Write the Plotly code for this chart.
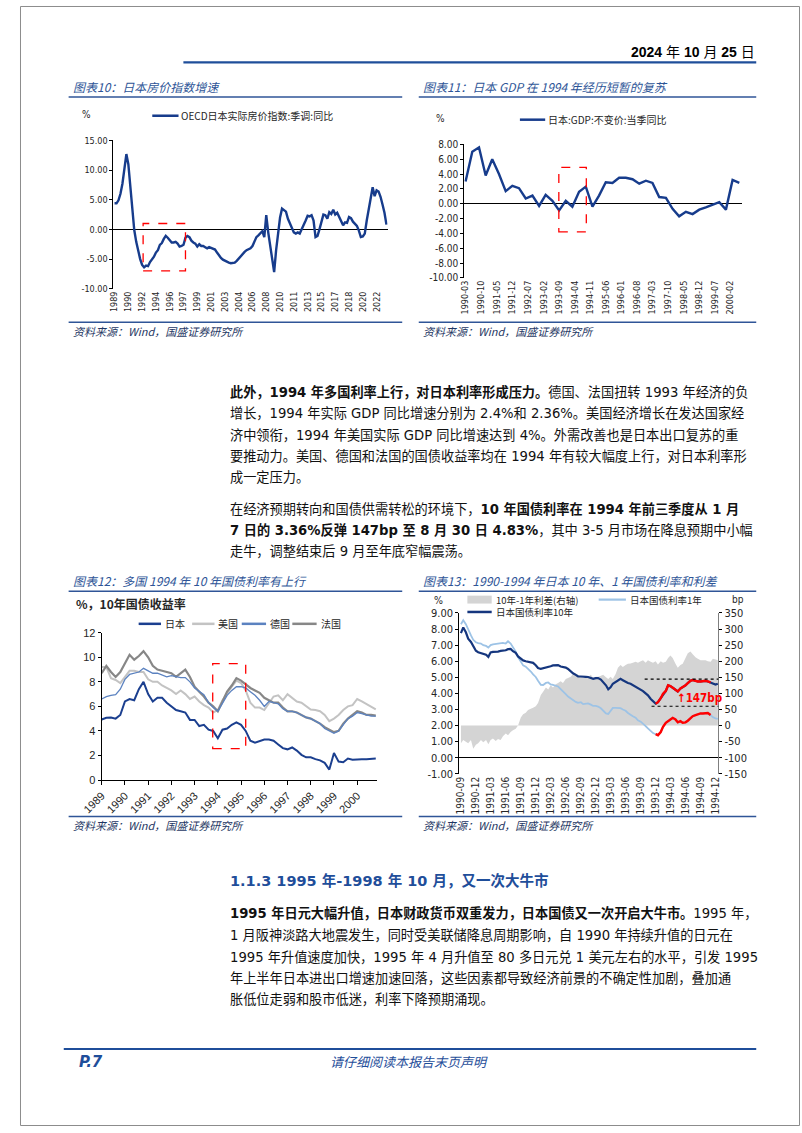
import plotly.graph_objects as go
import pandas as pd

W, H = 802, 1133


def fx(x):
    return x / W


def fy(y):
    return 1 - y / H


# ======================= DATA =======================
# Chart 10: OECD Japan real house price index, SA, YoY (quarterly, 1989Q1 ->)
hpi_values = [
    4.4, 4.4, 4.9, 6.0, 7.7, 9.9, 12.7, 11.0, 7.1, 3.2,
    -0.1, -2.1, -3.7, -5.0, -6.0, -6.4, -6.1, -6.2, -5.5, -5.1,
    -4.6, -3.9, -3.5, -2.6, -2.3, -1.6, -1.1, -1.4, -1.8, -2.2,
    -2.2, -2.1, -2.4, -2.9, -2.8, -2.6, -1.4, -1.1, -1.3, -1.9,
    -2.2, -2.4, -2.9, -2.5, -2.8, -2.8, -3.0, -3.2, -3.0, -3.1,
    -3.2, -3.4, -3.9, -4.4, -4.8, -5.1, -5.3, -5.5, -5.6, -5.7,
    -5.7, -5.6, -5.3, -4.9, -4.5, -4.2, -3.8, -3.5, -3.3, -3.2,
    -2.8, -2.0, -1.3, -1.0, -0.6, -0.3, -1.3, 2.4, -0.5, -2.5,
    -4.5, -7.2, -3.5, -0.5, 2.0, 3.5, 3.2, 3.0, 1.8, 1.1,
    0.4, -0.5, -0.7, -0.5, -0.7, 0.0, 0.6, 1.5, 2.3, 2.2,
    2.4, 1.5, -1.3, -1.1, 0.0, 1.5, 2.5, 2.4, 1.8, 2.9,
    2.6, 3.3, 2.5, 2.8, 2.0, 1.5, 0.7, 1.2, 1.1, 2.1,
    1.9, 1.3, 1.0, 0.6, -0.2, -1.3, -1.2, -0.7, 1.5, 3.3,
    5.0, 7.1, 5.6, 6.6, 6.4, 5.5, 4.2, 2.8, 0.8,
]
hpi_tick_labels = ["1989", "1990", "1992", "1994", "1996", "1997", "1999", "2001",
                   "2003", "2004", "2006", "2008", "2010", "2011", "2013", "2015",
                   "2017", "2018", "2020", "2022"]
hpi_y_ticks = [15, 10, 5, 0, -5, -10]
hpi_y_labels = ["15.00", "10.00", "5.00", "0.00", "-5.00", "-10.00"]

# Chart 11: Japan real GDP YoY (quarterly, 1990-03 -> 2000-06)
gdp_values = [3.0, 7.0, 7.6, 3.8, 6.0, 4.0, 1.7, 2.4, 2.1, 0.7,
              1.1, -0.3, 1.2, 0.4, -0.9, 0.4, -0.4, 1.6, 2.3, -0.4,
              1.1, 2.9, 2.8, 3.5, 3.5, 3.3, 2.7, 3.1, 2.8, 0.9,
              0.8, -0.7, -1.7, -1.1, -1.4, -0.8, -0.5, -0.2, 0.2, -0.8,
              3.2, 2.8]
gdp_tick_labels = ["1990-03", "1990-10", "1991-05", "1991-12", "1992-07", "1993-02",
                   "1993-09", "1994-04", "1994-11", "1995-06", "1996-01", "1996-08",
                   "1997-03", "1997-10", "1998-05", "1998-12", "1999-07", "2000-02"]
gdp_y_ticks = [8, 6, 4, 2, 0, -2, -4, -6, -8, -10]
gdp_y_labels = ["8.00", "6.00", "4.00", "2.00", "0.00", "-2.00", "-4.00", "-6.00",
                "-8.00", "-10.00"]

# Chart 12: 10Y government bond yields (%), sampled every 0.2 year from 1989.0
jp10 = [4.93, 5.07, 5.1, 5.0, 5.3, 6.4, 6.6, 6.5, 7.4, 8.0,
        7.0, 6.4, 6.7, 6.7, 6.3, 6.0, 5.7, 5.6, 5.5, 4.9,
        4.9, 4.4, 4.5, 4.1, 4.0, 3.4, 4.1, 4.2, 4.5, 4.7,
        4.5, 4.0, 3.2, 3.05, 3.2, 3.3, 3.3, 3.2, 2.9, 2.6,
        2.5, 2.65, 2.4, 2.05, 1.85, 1.85, 1.7, 1.6, 1.4, 0.85,
        2.2, 1.5, 1.45, 1.75, 1.65, 1.7, 1.7, 1.7, 1.75, 1.75]
us10 = [9.2, 9.2, 8.3, 8.15, 7.9, 8.4, 8.9, 8.9, 8.8, 8.8,
        8.2, 8.0, 8.0, 7.7, 7.5, 7.3, 7.0, 7.3, 7.0, 6.6,
        6.8, 6.4, 6.1, 5.9, 5.5, 5.7, 6.5, 7.1, 7.6, 8.1,
        7.9, 7.3, 6.3, 5.9, 5.9, 5.7, 6.3, 6.8, 6.9, 6.5,
        7.0, 6.7, 6.4, 6.3, 6.0, 5.75, 5.7, 5.6, 5.3, 4.8,
        5.0, 5.3, 5.7, 6.0, 6.1, 6.6, 6.4, 6.2, 6.0, 5.75]
de10 = [6.6, 6.8, 6.9, 6.95, 7.4, 8.2, 8.6, 8.7, 8.8, 9.1,
        8.9, 8.7, 8.7, 8.55, 8.4, 8.5, 8.4, 8.35, 8.35, 8.0,
        7.5, 7.2, 6.95, 6.3, 5.9, 5.6, 6.3, 6.9, 7.3, 7.6,
        7.6, 7.5, 7.2, 6.9, 6.5, 6.0, 6.4, 6.3, 6.2, 5.8,
        5.6, 5.6, 5.5, 5.3, 5.1, 5.0, 4.8, 4.6, 4.2, 4.0,
        3.8, 4.0, 4.5, 5.0, 5.2, 5.5, 5.4, 5.3, 5.2, 5.2]
fr10 = [8.7, 9.3, 8.8, 8.4, 8.8, 9.5, 10.2, 9.8, 10.1, 10.5,
        10.0, 9.3, 9.0, 8.9, 8.8, 8.7, 8.4, 8.7, 9.0, 8.4,
        7.6, 7.2, 6.8, 6.3, 6.0, 5.6, 6.4, 7.2, 7.7, 8.3,
        8.1, 7.8, 7.5, 7.3, 7.1, 6.7, 6.5, 6.3, 6.3, 5.9,
        5.6, 5.6, 5.5, 5.3, 5.1, 5.0, 4.8, 4.6, 4.3, 4.1,
        3.9, 4.0, 4.6, 5.0, 5.3, 5.6, 5.5, 5.3, 5.3, 5.25]
bond_tick_labels = ["1989", "1990", "1991", "1992", "1993", "1994", "1995", "1996",
                    "1997", "1998", "1999", "2000"]
bond_names = ["日本", "美国", "德国", "法国"]

# Chart 13: JGB 10Y / 1Y yields (%) and spread (bp), semi-monthly from 1990-09-01
jgb10 = [7.75, 8.1, 7.8, 7.4, 7.2, 6.92, 6.65, 6.56, 6.52, 6.48,
         6.4, 6.27, 6.55, 6.58, 6.58, 6.6, 6.64, 6.64, 6.68, 6.75,
         6.76, 6.62, 6.52, 6.3, 6.15, 6.05, 6.0, 5.97, 5.97, 5.9,
         5.75, 5.58, 5.52, 5.55, 5.62, 5.66, 5.69, 5.74, 5.76, 5.76,
         5.67, 5.64, 5.6, 5.52, 5.37, 5.25, 5.15, 5.05, 5.05, 5.02,
         5.03, 5.02, 4.94, 4.9, 4.95, 4.95, 4.86, 4.7, 4.5, 4.25,
         4.38, 4.6, 4.72, 4.8, 4.9, 4.82, 4.72, 4.64, 4.6, 4.52,
         4.43, 4.3, 4.24, 4.14, 4.0, 3.88, 3.65, 3.5, 3.36, 3.45,
         3.7, 3.98, 4.15, 4.5, 4.45, 4.35, 4.25, 4.12, 4.3, 4.38,
         4.5, 4.64, 4.78, 4.83, 4.78, 4.74, 4.74, 4.78, 4.78, 4.74,
         4.68, 4.62, 4.55, 4.6]
jgb1 = [8.3, 8.55, 8.3, 7.95, 7.6, 7.33, 7.18, 7.12, 7.1, 7.0,
        6.95, 6.85, 7.0, 7.05, 7.08, 7.1, 7.12, 7.14, 7.1, 7.24,
        7.1, 6.85, 6.6, 6.25, 5.95, 5.74, 5.66, 5.53, 5.36, 5.18,
        5.02, 4.78, 4.53, 4.52, 4.65, 4.68, 4.56, 4.53, 4.5, 4.43,
        4.27, 4.1, 3.95, 3.8, 3.67, 3.56, 3.47, 3.41, 3.45, 3.33,
        3.36, 3.38, 3.3, 3.22, 3.22, 3.18, 3.07, 2.92, 2.75, 2.72,
        2.88, 3.1, 3.1, 3.1, 3.08, 3.0, 2.92, 2.78, 2.66, 2.58,
        2.49, 2.33, 2.24, 2.14, 1.97, 1.82, 1.66, 1.53, 1.46, 1.4,
        1.6, 1.92, 2.17, 2.3, 2.38, 2.48, 2.38, 2.2, 2.27, 2.18,
        2.2, 2.3, 2.45, 2.58, 2.65, 2.7, 2.75, 2.75, 2.77, 2.78,
        2.65, 2.52, 2.45, 2.42]
spread_bp = [-55, -45, -50, -55, -45, -72, -60, -55, -45, -52,
             -45, -58, -45, -40, -48, -42, -45, -33, -25, -30,
             -20, -15, -10, 0, 25, 35, 40, 48, 52, 55,
             60, 70, 95, 105, 118, 112, 125, 118, 128, 132,
             138, 132, 145, 148, 152, 160, 162, 158, 152, 148,
             152, 150, 158, 148, 152, 152, 155, 158, 150, 145,
             152, 145, 160, 180, 188, 182, 188, 192, 193, 195,
             198, 195, 200, 203, 195, 203, 198, 195, 200, 190,
             200, 195, 198, 210, 218, 210, 192, 180, 188, 192,
             210, 225, 230, 222, 212, 208, 203, 203, 203, 200,
             198, 208, 205, 203]
c13_tick_labels = ["1990-09", "1990-12", "1991-03", "1991-06", "1991-09", "1991-12",
                   "1992-03", "1992-06", "1992-09", "1992-12", "1993-03", "1993-06",
                   "1993-09", "1993-12", "1994-03", "1994-06", "1994-09", "1994-12"]
c13_left_ticks = [9, 8, 7, 6, 5, 4, 3, 2, 1, 0, -1]
c13_left_labels = ["9.00", "8.00", "7.00", "6.00", "5.00", "4.00", "3.00", "2.00",
                   "1.00", "0.00", "-1.00"]
c13_right_ticks = [350, 300, 250, 200, 150, 100, 50, 0, -50, -100, -150]
c13_right_labels = ["350", "300", "250", "200", "150", "100", "50", "0", "-50", "-100",
                    "-150"]
red_start, red_end = 78, 101          # 1994 rebound period highlighted in red
rebound_levels = [4.88, 3.20]         # dotted reference levels (high / low)

# ======================= DERIVED AXES =======================
hpi_x = list(range(len(hpi_values)))
hpi_tickvals = [7 * i for i in range(len(hpi_tick_labels))]
gdp_dates = pd.date_range("1990-03-01", periods=len(gdp_values), freq="3MS")
gdp_tickvals = [s + "-01" for s in gdp_tick_labels]
bond_years = [1989 + i / 5 for i in range(len(jp10))]
bond_tickvals = [int(s) for s in bond_tick_labels]
c13_dates = pd.date_range("1990-09-01", periods=len(jgb10), freq="SMS")
c13_tickvals = [s + "-01" for s in c13_tick_labels]

# ======================= STYLE =======================
NAVY = "#173c8c"
TITLE_BLUE = "#2e5597"
RULE_BLUE = "#2f5597"
SRC_COLOR = "#1f3864"
CJK = "Noto Sans CJK SC"
MIX = "DejaVu Sans, Noto Sans CJK SC"
AXF = "DejaVu Sans Condensed, DejaVu Sans"
TICK_COLOR = "#262626"

fig = go.Figure()

# ---- chart 10
fig.add_trace(go.Scatter(x=hpi_x, y=hpi_values, mode="lines", line=dict(color=NAVY, width=2.4),
                         xaxis="x", yaxis="y", hoverinfo="skip", showlegend=False))
# ---- chart 11
fig.add_trace(go.Scatter(x=gdp_dates, y=gdp_values, mode="lines", line=dict(color=NAVY, width=2.4),
                         xaxis="x2", yaxis="y2", hoverinfo="skip", showlegend=False))
# ---- chart 12
bond_series = [jp10, us10, de10, fr10]
bond_colors = ["#1b3f8f", "#c3c3c3", "#5b82c0", "#878787"]
bond_widths = [2.0, 2.0, 1.3, 2.2]
for order in [1, 3, 2, 0]:
    fig.add_trace(go.Scatter(x=bond_years, y=bond_series[order], mode="lines",
                             line=dict(color=bond_colors[order], width=bond_widths[order]),
                             xaxis="x3", yaxis="y3", hoverinfo="skip", showlegend=False,
                             name=bond_names[order]))
# ---- chart 13 (base axis y4 = bp on the right; overlay y5 = % on the left)
fig.add_trace(go.Scatter(x=c13_dates, y=spread_bp, mode="none", fill="tozeroy",
                         fillcolor="#d4d4d4", xaxis="x4", yaxis="y4", hoverinfo="skip",
                         showlegend=False))
fig.add_trace(go.Scatter(x=c13_dates, y=jgb1, mode="lines", line=dict(color="#9dc3e6", width=1.8),
                         xaxis="x4", yaxis="y5", hoverinfo="skip", showlegend=False))
fig.add_trace(go.Scatter(x=c13_dates, y=jgb10, mode="lines", line=dict(color="#15367e", width=2.2),
                         xaxis="x4", yaxis="y5", hoverinfo="skip", showlegend=False))
for ser in (jgb10, jgb1):
    fig.add_trace(go.Scatter(x=c13_dates[red_start:red_end], y=ser[red_start:red_end], mode="lines",
                             line=dict(color="#ff0000", width=2.4), xaxis="x4", yaxis="y5",
                             hoverinfo="skip", showlegend=False))


def yax(**kw):
    d = dict(showgrid=False, showline=True, linecolor="#000", linewidth=1, ticks="outside",
             ticklen=3, tickcolor="#000", tickmode="array", fixedrange=True,
             tickfont=dict(family=AXF, size=9, color=TICK_COLOR))
    d.update(kw)
    return d


def xax(**kw):
    d = dict(showgrid=False, showline=False, zeroline=False, ticks="", tickmode="array",
             fixedrange=True, tickfont=dict(family=AXF, size=9, color=TICK_COLOR))
    d.update(kw)
    return d


layout = dict(
    width=W, height=H, margin=dict(l=0, r=0, t=0, b=0),
    paper_bgcolor="white", plot_bgcolor="rgba(0,0,0,0)", showlegend=False,
    xaxis=xax(domain=[fx(96), fx(378)], anchor="y", range=[-0.6, len(hpi_values) - 0.4],
              tickvals=hpi_tickvals, ticktext=hpi_tick_labels, tickangle=-90),
    yaxis=yax(domain=[fy(286), fy(136)], anchor="x", range=[-10, 15],
              tickvals=hpi_y_ticks, ticktext=hpi_y_labels, zeroline=True,
              zerolinecolor="#000", zerolinewidth=1),
    xaxis2=xax(domain=[fx(456.7), fx(742)], anchor="y2", type="date",
               range=["1990-02-10", "2000-07-03"], tickvals=gdp_tickvals,
               ticktext=gdp_tick_labels, tickangle=-90),
    yaxis2=yax(domain=[fy(275), fy(140)], anchor="x2", range=[-10, 8],
               tickvals=gdp_y_ticks, ticktext=gdp_y_labels, zeroline=True,
               zerolinecolor="#000", zerolinewidth=1,
               tickfont=dict(family=AXF, size=10, color=TICK_COLOR)),
    xaxis3=dict(domain=[fx(84), fx(367)], anchor="y3", range=[1989, 2000.85],
                tickmode="array", tickvals=bond_tickvals, ticktext=bond_tick_labels,
                tickangle=-45, showline=True, linecolor="#000", linewidth=1, ticks="outside",
                ticklen=4, tickcolor="#000", showgrid=False, zeroline=False, fixedrange=True,
                tickfont=dict(family="Liberation Sans", size=11, color=TICK_COLOR)),
    yaxis3=yax(domain=[fy(783), fy(634)], anchor="x3", range=[0, 12],
               tickvals=[0, 2, 4, 6, 8, 10, 12], ticktext=["0", "2", "4", "6", "8", "10", "12"],
               zeroline=False, tickfont=dict(family="Liberation Sans", size=11, color=TICK_COLOR)),
    xaxis4=xax(domain=[fx(451.7), fx(718)], anchor="y4", type="date",
               range=["1990-08-22", "1994-12-18"], tickvals=c13_tickvals,
               ticktext=c13_tick_labels, tickangle=-90,
               tickfont=dict(family=AXF, size=10, color=TICK_COLOR)),
    yaxis4=yax(domain=[fy(776.7), fy(614)], anchor="x4", side="right", range=[-150, 350],
               tickvals=c13_right_ticks, ticktext=c13_right_labels, zeroline=False,
               linecolor="#7f7f7f", tickfont=dict(family=AXF, size=11, color=TICK_COLOR)),
    yaxis5=yax(anchor="x4", overlaying="y4", side="left", range=[-1, 9],
               tickvals=c13_left_ticks, ticktext=c13_left_labels, zeroline=True,
               zerolinecolor="#000", zerolinewidth=1,
               tickfont=dict(family=AXF, size=11, color=TICK_COLOR)),
)

shapes = []


def hline(x0, x1, y, color=RULE_BLUE, width=1.5, dash="solid"):
    shapes.append(dict(type="line", xref="paper", yref="paper", x0=fx(x0), x1=fx(x1),
                       y0=fy(y), y1=fy(y), line=dict(color=color, width=width, dash=dash)))


# page border
shapes.append(dict(type="rect", xref="paper", yref="paper", x0=fx(0.5), x1=fx(801.5),
                   y0=fy(1132.5), y1=fy(0.5), line=dict(color="#8c8c8c", width=1)))
# header / footer rules
hline(168, 757, 57, color="#1f4e9a", width=2.2)
hline(45, 757, 1055, color="#1f4e9a", width=2)
# chart title and source rules
for (a, b) in [(50, 393), (410, 757)]:
    hline(a, b, 92)
    hline(a, b, 320)
    hline(a, b, 592)
    hline(a, b, 820)

# legend samples
hline(136, 163, 111, color=NAVY, width=2.5)
hline(514, 540, 115, color=NAVY, width=2.5)
leg12 = [(122, 145), (177, 200), (228, 253), (280, 305)]
for (a, b), col in zip(leg12, bond_colors):
    hline(a, b, 625, color=col, width=2.5)
shapes.append(dict(type="rect", xref="paper", yref="paper", x0=fx(460), x1=fx(485),
                   y0=fy(604.5), y1=fy(596.5), line=dict(width=0), fillcolor="#d4d4d4"))
hline(595, 623, 600.5, color="#9dc3e6", width=2.2)
hline(460, 485, 613, color="#15367e", width=2.5)

# red dashed highlight boxes (data coordinates)
box_line = dict(color="#ff0000", width=1.3, dash="dash")
shapes.append(dict(type="rect", xref="x", yref="y", x0=14.5, x1=36, y0=-7, y1=1, line=box_line))
shapes.append(dict(type="rect", xref="x2", yref="y2", x0="1993-08-28", x1="1994-09-08",
                   y0=-3.8, y1=4.9, line=box_line))
shapes.append(dict(type="rect", xref="x3", yref="y3", x0=1993.78, x1=1995.2, y0=2.55, y1=9.48,
                   line=box_line))
# dotted rebound levels in chart 13
shapes.append(dict(type="line", xref="x4", yref="y5", x0="1993-09-25", x1="1994-12-25",
                   y0=rebound_levels[0], y1=rebound_levels[0],
                   line=dict(color="#000", width=1.2, dash="dot")))
shapes.append(dict(type="line", xref="x4", yref="y5", x0="1993-11-06", x1="1994-12-25",
                   y0=rebound_levels[1], y1=rebound_levels[1],
                   line=dict(color="#000", width=1.2, dash="dot")))

annotations = []


def note(x, y, text, size=12, color="#000", family=CJK, xanchor="left"):
    annotations.append(dict(x=fx(x), y=fy(y), xref="paper", yref="paper", text=text,
                            showarrow=False, xanchor=xanchor, yanchor="middle",
                            font=dict(size=size, color=color, family=family), borderpad=0))


# header
note(757, 47, "<b>2024</b> 年 <b>10</b> 月 <b>25</b> 日", size=14,
     family="Liberation Sans Narrow, Liberation Sans, Noto Sans CJK SC", xanchor="right")

# chart titles
note(53, 81, "<i>图表10：日本房价指数增速</i>", size=12, color=TITLE_BLUE)
note(413, 81, "<i>图表11：日本 GDP 在 1994 年经历短暂的复苏</i>", size=12, color=TITLE_BLUE)
note(53, 581, "<i>图表12：多国 1994 年 10 年国债利率有上行</i>", size=12, color=TITLE_BLUE)
note(413, 581, "<i>图表13：1990-1994 年日本 10 年、1 年国债利率和利差</i>", size=12, color=TITLE_BLUE)

# sources
for sx, sy in [(53, 329), (413, 329), (53, 829), (413, 829)]:
    note(sx, sy, "<i>资料来源：Wind，国盛证券研究所</i>", size=11, color=SRC_COLOR)

# chart 10 / 11 units and legends
note(63, 110, "%", size=10, family=AXF, color=TICK_COLOR)
note(165, 111, "OECD日本实际房价指数:季调:同比", size=10, color=TICK_COLOR)
note(427, 114, "%", size=10, family=AXF, color=TICK_COLOR)
note(542, 115, "日本:GDP:不变价:当季同比", size=10, color=TICK_COLOR)

# chart 12 unit and legend
note(57, 604, "<b>%，10年国债收益率</b>", size=12, color="#262626")
for (a, b), name in zip(leg12, bond_names):
    note(b + 3, 625, name, size=10, color=TICK_COLOR)

# chart 13 units, legend, annotation
note(425, 601, "%", size=10.5, family=AXF, color=TICK_COLOR)
note(731, 600, "bp", size=10, family=AXF, color=TICK_COLOR)
note(488, 600.5, "10年-1年利差(右轴)", size=9.5, color=TICK_COLOR)
note(626, 600.5, "日本国债利率1年", size=9.5, color=TICK_COLOR)
note(488, 613, "日本国债利率10年", size=9.5, color=TICK_COLOR)
note(675, 700, "<b>↑147bp</b>", size=11.5, color="#ff0000", family="DejaVu Sans Condensed, DejaVu Sans")

# body text
body = [
    (390, "<b>此外，1994 年多国利率上行，对日本利率形成压力。</b>德国、法国扭转 1993 年经济的负"),
    (412, "增长，1994 年实际 GDP 同比增速分别为 2.4%和 2.36%。美国经济增长在发达国家经"),
    (434, "济中领衔，1994 年美国实际 GDP 同比增速达到 4%。外需改善也是日本出口复苏的重"),
    (455, "要推动力。美国、德国和法国的国债收益率均在 1994 年有较大幅度上行，对日本利率形"),
    (477, "成一定压力。"),
    (509, "在经济预期转向和国债供需转松的环境下，<b>10 年国债利率在 1994 年前三季度从 1 月</b>"),
    (530, "<b>7 日的 3.36%反弹 147bp 至 8 月 30 日 4.83%</b>，其中 3-5 月市场在降息预期中小幅"),
    (551, "走牛，调整结束后 9 月至年底窄幅震荡。"),
    (918, "<b>1995 年日元大幅升值，日本财政货币双重发力，日本国债又一次开启大牛市。</b>1995 年，"),
    (940, "1 月阪神淡路大地震发生，同时受美联储降息周期影响，自 1990 年持续升值的日元在"),
    (962, "1995 年升值速度加快，1995 年 4 月升值至 80 多日元兑 1 美元左右的水平，引发 1995"),
    (983, "年上半年日本进出口增速加速回落，这些因素都导致经济前景的不确定性加剧，叠加通"),
    (1005, "胀低位走弱和股市低迷，利率下降预期涌现。"),
]
for yy, t in body:
    note(215, yy, t, size=13.2, color="#111", family=MIX)

note(215, 885, "<b>1.1.3 1995 年-1998 年 10 月，又一次大牛市</b>", size=14.5, color="#1f4e9a",
     family=MIX)

# footer
note(60, 1068, "<b><i>P.7</i></b>", size=15, color="#1f4e9a", family="DejaVu Sans")
note(400, 1068, "<i>请仔细阅读本报告末页声明</i>", size=13, color="#1f4e9a", xanchor="center")

layout["shapes"] = shapes
layout["annotations"] = annotations
fig.update_layout(**layout)

# remove the default 8px page margin synchronously (and again once the plot is drawn)
zero_margin = ("var s=document.createElement('style');"
               "s.textContent='html,body{margin:0;padding:0;overflow:hidden;}';"
               "document.head.appendChild(s);document.body.style.margin='0';")
fig.write_html("out.html", config={"displayModeBar": False, "staticPlot": True},
               post_script="}); " + zero_margin + " (function(){" + zero_margin)
